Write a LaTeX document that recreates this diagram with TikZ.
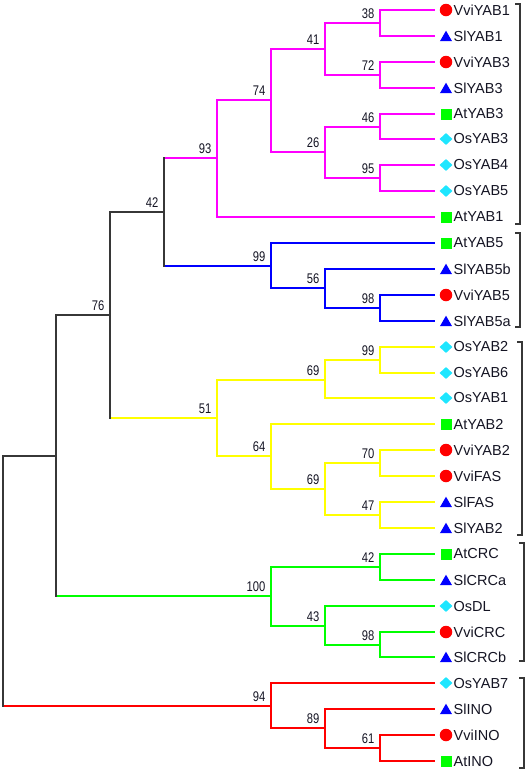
\documentclass[tikz,border=0pt]{standalone}
\usepackage{fontspec}
\setmainfont{Liberation Sans}
\usetikzlibrary{shapes.geometric}

\definecolor{treegray}{RGB}{55,55,55}
\definecolor{labelink}{RGB}{20,20,35}
\definecolor{magclade}{RGB}{255,0,255}
\definecolor{blueclade}{RGB}{0,0,255}
\definecolor{yelclade}{RGB}{255,255,0}
\definecolor{grnclade}{RGB}{0,255,0}
\definecolor{redclade}{RGB}{255,0,0}
\definecolor{oscyan}{RGB}{30,230,255}

\newcommand{\bsval}[1]{\scalebox{0.8}[1]{#1}}

\begin{document}
\begin{tikzpicture}[x=1pt, y=-1pt,
    blk/.style={line width=1.6pt, draw=treegray, line cap=rect},
    mag/.style={line width=2pt, draw=magclade},
    blu/.style={line width=2pt, draw=blueclade},
    yel/.style={line width=2pt, draw=yelclade},
    grn/.style={line width=2pt, draw=grnclade},
    rd/.style={line width=2pt, draw=redclade},
    brk/.style={line width=1.3pt, draw=treegray},
    boot/.style={anchor=base east, inner sep=0pt, font=\fontsize{14}{14}\selectfont, text=labelink},
    leaf/.style={anchor=west, inner sep=0pt, font=\fontsize{14.5}{14.5}\selectfont, text=labelink},
    vvimark/.style={circle, fill=redclade, inner sep=0pt, minimum size=12.5pt},
    slmark/.style={regular polygon, regular polygon sides=3, fill=blueclade, inner sep=0pt, minimum size=14pt, yshift=-1.7pt},
    atmark/.style={rectangle, fill=grnclade, inner sep=0pt, minimum size=11pt},
    osmark/.style={diamond, fill=oscyan, inner sep=0pt, minimum width=13pt, minimum height=12pt}]
\useasboundingbox (0,0) rectangle (526,772);

% leaves
\foreach \i/\mk/\txt in {0/vvimark/VviYAB1, 1/slmark/SlYAB1, 2/vvimark/VviYAB3, 3/slmark/SlYAB3, 4/atmark/AtYAB3, 5/osmark/OsYAB3, 6/osmark/OsYAB4, 7/osmark/OsYAB5, 8/atmark/AtYAB1, 9/atmark/AtYAB5, 10/slmark/SlYAB5b, 11/vvimark/VviYAB5, 12/slmark/SlYAB5a, 13/osmark/OsYAB2, 14/osmark/OsYAB6, 15/osmark/OsYAB1, 16/atmark/AtYAB2, 17/vvimark/VviYAB2, 18/vvimark/VviFAS, 19/slmark/SlFAS, 20/slmark/SlYAB2, 21/atmark/AtCRC, 22/slmark/SlCRCa, 23/osmark/OsDL, 24/vvimark/VviCRC, 25/slmark/SlCRCb, 26/osmark/OsYAB7, 27/slmark/SlINO, 28/vvimark/VviINO, 29/atmark/AtINO} {
    \coordinate (l\i) at (435, {round(10+25.9*\i)});
    \node[\mk] (k\i) at (446, {round(10+25.9*\i)}) {};
    \node[leaf] (t\i) at (453.5, {round(10+25.9*\i)}) {\txt};
}

% inner nodes
\coordinate (m38) at (380, 23);
\coordinate (m72) at (380, 75);
\coordinate (m41) at (325, 49);
\coordinate (m46) at (380, 127);
\coordinate (m95) at (380, 178);
\coordinate (m26) at (325, 152);
\coordinate (m74) at (271, 100);
\coordinate (m93) at (217, 158);
\coordinate (b98) at (380, 308);
\coordinate (b56) at (325, 288);
\coordinate (b99) at (271, 266);
\coordinate (k42) at (164, 212);
\coordinate (y99) at (380, 360);
\coordinate (y69a) at (325, 380);
\coordinate (y70) at (380, 463);
\coordinate (y47) at (380, 515);
\coordinate (y69b) at (325, 489);
\coordinate (y64) at (271, 456);
\coordinate (y51) at (217, 418);
\coordinate (k76) at (110, 315);
\coordinate (g42) at (380, 567);
\coordinate (g98) at (380, 645);
\coordinate (g43) at (325, 626);
\coordinate (g100) at (271, 596);
\coordinate (kA) at (56, 456);
\coordinate (r61) at (380, 748);
\coordinate (r89) at (325, 728);
\coordinate (r94) at (271, 706);
\coordinate (root) at (3, 581);

% magenta clade
\draw[mag] (m38) |- (l0); \draw[mag] (m38) |- (l1);
\draw[mag] (m72) |- (l2); \draw[mag] (m72) |- (l3);
\draw[mag] (m41) |- (m38); \draw[mag] (m41) |- (m72);
\draw[mag] (m46) |- (l4); \draw[mag] (m46) |- (l5);
\draw[mag] (m95) |- (l6); \draw[mag] (m95) |- (l7);
\draw[mag] (m26) |- (m46); \draw[mag] (m26) |- (m95);
\draw[mag] (m74) |- (m41); \draw[mag] (m74) |- (m26);
\draw[mag] (m93) |- (m74); \draw[mag] (m93) |- (l8);

% blue clade
\draw[blu] (b98) |- (l11); \draw[blu] (b98) |- (l12);
\draw[blu] (b56) |- (l10); \draw[blu] (b56) |- (b98);
\draw[blu] (b99) |- (l9); \draw[blu] (b99) |- (b56);

% yellow clade
\draw[yel] (y99) |- (l13); \draw[yel] (y99) |- (l14);
\draw[yel] (y69a) |- (y99); \draw[yel] (y69a) |- (l15);
\draw[yel] (y70) |- (l17); \draw[yel] (y70) |- (l18);
\draw[yel] (y47) |- (l19); \draw[yel] (y47) |- (l20);
\draw[yel] (y69b) |- (y70); \draw[yel] (y69b) |- (y47);
\draw[yel] (y64) |- (l16); \draw[yel] (y64) |- (y69b);
\draw[yel] (y51) |- (y69a); \draw[yel] (y51) |- (y64);

% green clade
\draw[grn] (g42) |- (l21); \draw[grn] (g42) |- (l22);
\draw[grn] (g98) |- (l24); \draw[grn] (g98) |- (l25);
\draw[grn] (g43) |- (l23); \draw[grn] (g43) |- (g98);
\draw[grn] (g100) |- (g42); \draw[grn] (g100) |- (g43);

% red clade
\draw[rd] (r61) |- (l28); \draw[rd] (r61) |- (l29);
\draw[rd] (r89) |- (l27); \draw[rd] (r89) |- (r61);
\draw[rd] (r94) |- (l26); \draw[rd] (r94) |- (r89);

% backbone
\draw[mag] (k42 |- m93) -- (m93);
\draw[blu] (k42 |- b99) -- (b99);
\draw[blk] (k42 |- m93) -- (k42 |- b99);
\draw[yel] (k76 |- y51) -- (y51);
\draw[blk] (k76 |- k42) -- (k42);
\draw[blk] (k76 |- k42) -- (k76 |- y51);
\draw[grn] (kA |- g100) -- (g100);
\draw[blk] (kA |- k76) -- (k76);
\draw[blk] (kA |- k76) -- (kA |- g100);
\draw[rd] (root |- r94) -- (r94);
\draw[blk] (root |- kA) -- (kA);
\draw[blk] (root |- kA) -- (root |- r94);

% bootstrap values
\foreach \n/\v in {m38/38, m72/72, m41/41, m46/46, m95/95, m26/26, m74/74, m93/93, b98/98, b56/56, b99/99, k42/42, y99/99, y69a/69, y70/70, y47/47, y69b/69, y64/64, y51/51, k76/76, g42/42, g98/98, g43/43, g100/100, r61/61, r89/89, r94/94}
    \node[boot] (v\n) at ([xshift=-5.5pt, yshift=5pt]\n) {\bsval{\v}};

% group brackets
\draw[brk] (515,4) -- (520,4) -- (520,224) -- (515,224);
\draw[brk] (515,233) -- (520,233) -- (520,327) -- (515,327);
\draw[brk] (517,342) -- (522,342) -- (522,535) -- (517,535);
\draw[brk] (519,543) -- (524,543) -- (524,661) -- (519,661);
\draw[brk] (519,678) -- (524,678) -- (524,768) -- (519,768);
\end{tikzpicture}
\end{document}
